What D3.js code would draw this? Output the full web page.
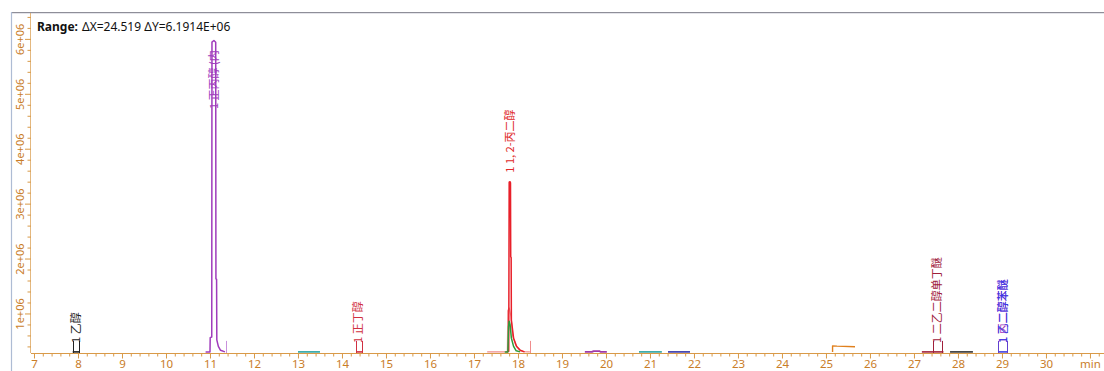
<!DOCTYPE html>
<html><head><meta charset="utf-8">
<script src="https://cdn.jsdelivr.net/npm/d3@7/dist/d3.min.js"></script>
<style>
html,body{margin:0;padding:0;background:#fff;}
svg{display:block;}
</style></head><body>
<svg id="chart" width="1104" height="371"></svg>
<script>
// ---------- data ----------
const rangeLabel = "Range:";
const rangeValues = "ΔX=24.519 ΔY=6.1914E+06";
const xDomain = [6.932, 31.451];          // minutes
const yDomain = [280000, 6471400];        // counts (ΔY = 6.1914E+06)
const xMajorTicks = [7,8,9,10,11,12,13,14,15,16,17,18,19,20,21,22,23,24,25,26,27,28,29,30,31];
const xTickLabels = ["7","8","9","10","11","12","13","14","15","16","17","18","19","20","21","22","23","24","25","26","27","28","29","30","min"];
const yMajorTicks = [1e6,2e6,3e6,4e6,5e6,6e6];
const yTickLabels = ["1e+06","2e+06","3e+06","4e+06","5e+06","6e+06"];

// chromatogram traces: [time (min), intensity]
const traceEthanol   = [[7.88,3.0e5],[8.03,3.0e5]];
const tracePropanol  = [[10.9,3.0e5],[11.0,3.0e5],[11.005,5.6e5],[11.04,5.7e5],[11.045,5.94e6],[11.09,5.97e6],[11.13,5.94e6],[11.135,1.63e6],[11.15,1.62e6],[11.155,5.2e5],[11.19,4.0e5],[11.24,3.3e5],[11.34,3.0e5]];
const traceTeal1     = [[13.0,3.0e5],[13.5,3.0e5]];
const traceButanol   = [[14.32,3.0e5],[14.46,3.0e5]];
const tracePGsalmon  = [[17.3,3.0e5],[17.72,3.0e5],[17.76,3.1e5],[17.77,1.05e6],[17.8,1.1e6],[17.84,0.95e6],[17.88,0.6e6],[17.95,0.42e6],[18.05,0.33e6],[18.12,3.05e5],[18.27,3.0e5]];
const tracePG        = [[17.74,3.0e5],[17.79,3.1e5],[17.8,3.39e6],[17.82,3.4e6],[17.83,3.38e6],[17.835,2.03e6],[17.845,2.02e6],[17.85,0.88e6],[17.9,0.55e6],[17.97,0.4e6],[18.05,0.33e6],[18.15,3.0e5]];
const traceGreen     = [[17.7,3.0e5],[17.77,3.0e5],[17.785,0.75e6],[17.8,0.86e6],[17.82,0.8e6],[17.85,0.55e6],[17.9,0.4e6],[17.96,0.32e6],[18.05,3.0e5]];
const traceMagenta   = [[19.52,3.0e5],[19.68,3.0e5],[19.72,3.15e5],[19.85,3.15e5],[19.88,3.0e5],[20.02,3.0e5]];
const traceTeal2     = [[20.75,3.0e5],[21.27,3.0e5]];
const traceIndigo    = [[21.41,3.0e5],[21.91,3.0e5]];
const traceOrange    = [[25.15,3.0e5],[25.15,4.1e5],[25.25,4.05e5],[25.66,3.95e5]];
const traceDEGBE     = [[27.18,3.0e5],[27.67,3.0e5]];
const traceBlack2    = [[27.82,3.0e5],[28.34,3.0e5]];
const tracePPh       = [[28.92,3.0e5],[29.12,3.0e5]];

// peak labels
const labelTexts  = ["1 乙醇","1 正丙醇 (内","1 正丁醇","1 1, 2-丙二醇","1 二乙二醇单丁醚","1 丙二醇苯醚","1 乙二醇苯醚"];
const labelTimes  = [7.95, 11.09, 14.37, 17.815, 27.53, 29.03, 29.03];
const labelValues = [3.0e5, 4.56e6, 3.0e5, 3.4e6, 3.0e5, 3.0e5, 3.0e5];

// peak start / end markers (time)
const markerTimes = [7.89, 8.02, 11.36, 14.32, 14.45, 18.27, 27.43, 27.63, 28.92, 29.11];

// ---------- styles ----------
const traceStyles = [
  [traceEthanol,  "#222222", 1.6],
  [traceTeal1,    "#2aa3a3", 1.6],
  [traceButanol,  "#d03040", 1.6],
  [tracePGsalmon, "#f08c8c", 1.3],
  [tracePG,       "#e8202a", 1.5],
  [traceGreen,    "#2e9a3a", 1.5],
  [tracePropanol, "#a03cbc", 1.5],
  [traceMagenta,  "#a03aa8", 1.8],
  [traceTeal2,    "#2aa3a3", 1.6],
  [traceIndigo,   "#3434a8", 1.6],
  [traceOrange,   "#e0801e", 1.4],
  [traceDEGBE,    "#a0203a", 1.6],
  [traceBlack2,   "#333333", 1.6],
  [tracePPh,      "#4040e0", 1.6]
];
const labelColors  = ["#222222","#a03cbc","#d03040","#e02a2a","#a0203a","#a03cbc","#3838e8"];
const markerColors = ["#222222","#222222","#c890dc","#d03040","#d03040","#f08c8c","#a0203a","#a0203a","#6040d0","#6040d0"];

const axisColor = "#d99a48";
const axisText  = "#c97d28";

// ---------- drawing ----------
const svg = d3.select("#chart");
const W = 1104, H = 371;
const mLeft = 31, mTop = 13, mBottom = 353, mRightEnd = 1109.8;

const x = d3.scaleLinear().domain(xDomain).range([mLeft, mRightEnd]);
const y = d3.scaleLinear().domain(yDomain).range([mBottom, mTop]);

svg.append("rect").attr("width", W).attr("height", H).attr("fill", "#fff");

// frame
svg.append("line").attr("x1", 11).attr("x2", W).attr("y1", 12.5).attr("y2", 12.5).attr("stroke", "#8e8e98").attr("stroke-width", 1);
svg.append("line").attr("x1", 12).attr("x2", W).attr("y1", 13.5).attr("y2", 13.5).attr("stroke", "#e4e4ea").attr("stroke-width", 1);
svg.append("line").attr("x1", 11.5).attr("x2", 11.5).attr("y1", 12).attr("y2", H).attr("stroke", "#aebcd4").attr("stroke-width", 1.2);

svg.append("defs").append("clipPath").attr("id", "plotclip")
  .append("rect").attr("x", mLeft).attr("y", mTop + 1).attr("width", W - mLeft).attr("height", mBottom - mTop);

// x axis
const xMinor = d3.range(7, 31.45, 0.2).filter(v => Math.abs(v - Math.round(v)) > 1e-6);
const gxMinor = svg.append("g").attr("transform", `translate(0,${mBottom})`)
  .call(d3.axisBottom(x).tickValues(xMinor).tickSize(3.5).tickFormat(""));
const gx = svg.append("g").attr("transform", `translate(0,${mBottom})`)
  .call(d3.axisBottom(x).tickValues(xMajorTicks).tickSize(5.5).tickPadding(1.5)
    .tickFormat((d, i) => xTickLabels[i]));
gxMinor.select(".domain").remove();
gx.select(".domain").attr("stroke", axisColor).attr("d", `M${mLeft},0.5H${W}`);
[gx, gxMinor].forEach(g => g.selectAll(".tick line").attr("stroke", axisColor));
gx.selectAll(".tick text").attr("fill", axisText)
  .style("font-family", "'Noto Sans', 'Open Sans', sans-serif").style("font-size", "11.5px");

// y axis
const yMinor = d3.range(4e5, 6.45e6, 2e5).filter(v => Math.abs(v / 1e6 - Math.round(v / 1e6)) > 1e-6);
const gyMinor = svg.append("g").attr("transform", `translate(${mLeft},0)`)
  .call(d3.axisLeft(y).tickValues(yMinor).tickSize(3.5).tickFormat(""));
const gy = svg.append("g").attr("transform", `translate(${mLeft},0)`)
  .call(d3.axisLeft(y).tickValues(yMajorTicks).tickSize(6)
    .tickFormat((d, i) => yTickLabels[i]));
gyMinor.select(".domain").remove();
gy.select(".domain").attr("stroke", axisColor).attr("stroke-opacity", 0.7).attr("d", `M-0.5,${mTop}V${mBottom}`);
[gy, gyMinor].forEach(g => g.selectAll(".tick line").attr("stroke", axisColor));
gy.selectAll(".tick text")
  .attr("x", 0).attr("dy", 0).attr("text-anchor", "middle")
  .attr("transform", "translate(-7,0) rotate(-90)")
  .attr("fill", axisText)
  .style("font-family", "'Noto Sans', 'Open Sans', sans-serif").style("font-size", "11px");
svg.selectAll(".domain").attr("fill", "none");

// traces
const plot = svg.append("g").attr("clip-path", "url(#plotclip)");
const line = d3.line().x(d => x(d[0])).y(d => y(d[1]));
traceStyles.forEach(([pts, color, w]) => {
  plot.append("path").datum(pts).attr("d", line)
    .attr("fill", "none").attr("stroke", color).attr("stroke-width", w)
    .attr("stroke-linejoin", "round");
});

// markers
plot.selectAll(".marker").data(markerTimes).join("line")
  .attr("x1", d => Math.round(x(d)) + 0.5).attr("x2", d => Math.round(x(d)) + 0.5)
  .attr("y1", y(3.0e5) - 11).attr("y2", mBottom)
  .attr("stroke", (d, i) => markerColors[i]).attr("stroke-width", 1);

// labels
plot.selectAll(".plabel").data(labelTexts).join("text")
  .attr("transform", (d, i) => `translate(${x(labelTimes[i])},${y(labelValues[i]) - 9}) rotate(-90)`)
  .attr("dy", "0.36em")
  .attr("text-anchor", "start")
  .attr("fill", (d, i) => labelColors[i])
  .style("font-family", "'Noto Sans CJK SC', 'Noto Sans', sans-serif")
  .style("font-size", "11px")
  .text(d => d);

// range text
const rt = svg.append("text").attr("x", 37).attr("y", 31)
  .style("font-family", "'Noto Sans', 'Open Sans', sans-serif").style("font-size", "12px").attr("fill", "#111");
rt.append("tspan").style("font-weight", "bold").text(rangeLabel);
rt.append("tspan").attr("x", 82).text(rangeValues);
</script>
</body></html>
